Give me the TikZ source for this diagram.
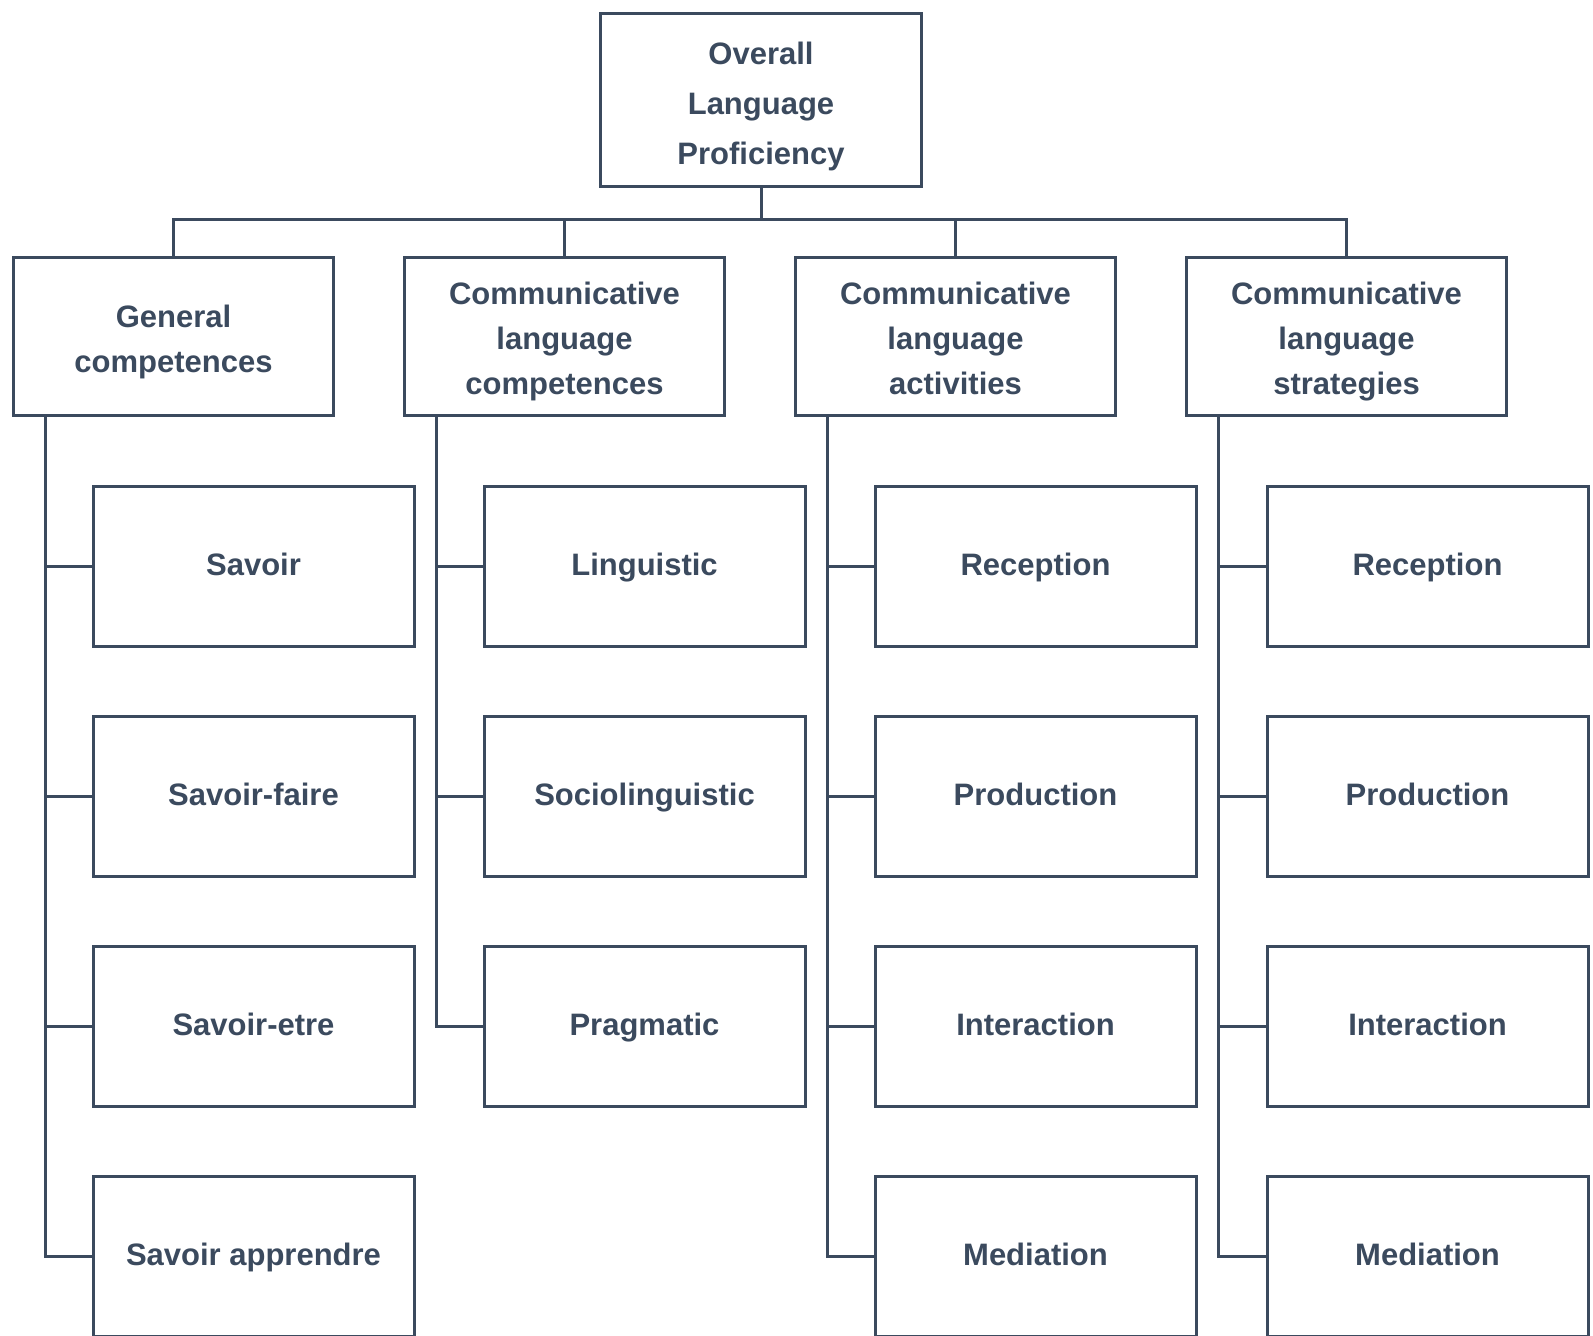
\documentclass[tikz,border=0pt]{standalone}
\usepackage{fontspec}
\setmainfont{Liberation Sans}
\definecolor{slate}{RGB}{59,74,94}
\tikzset{
  box/.style={draw=slate, line width=1.5pt, fill=white, rectangle, align=center, text=slate,
    font=\bfseries\fontsize{15.5}{22.5}\selectfont, inner sep=0pt,
    execute at begin node=\strut},
  topbox/.style={box, minimum width=160.5pt, minimum height=86.5pt, text height=72.5pt,
    font=\bfseries\fontsize{15.5}{25}\selectfont},
  headbox/.style={box, minimum width=160pt, minimum height=79pt, text height=64.5pt},
  leafbox/.style={box, minimum width=160.5pt, minimum height=80pt},
  link/.style={draw=slate, line width=1.5pt}
}
\begin{document}
\begin{tikzpicture}[x=0.5pt,y=0.5pt,yscale=-1,xscale=1]
\useasboundingbox (0,0) rectangle (1593,1336);

%Top box
\node [topbox] (overall) at (761,100) {Overall\\Language\\Proficiency\strut};

%Second level boxes
\node [headbox, text height=43pt] (general) at (173.5,336.5) {General\\competences\strut};
\node [headbox] (clcomp) at (564.5,336.5) {Communicative\\language\\competences\strut};
\node [headbox] (clact) at (955.5,336.5) {Communicative\\language\\activities\strut};
\node [headbox] (clstrat) at (1346.5,336.5) {Communicative\\language\\strategies\strut};

%Bus
\coordinate (bus) at (761,220);
\draw [link] (overall.south) -- (bus);
\draw [link] (general.north) |- (bus);
\draw [link] (clcomp.north) |- (bus);
\draw [link] (clact.north) |- (bus);
\draw [link] (clstrat.north) |- (bus);

%Trunks
\coordinate (gentrunk) at ([xshift=16.5pt]general.south west);
\coordinate (comptrunk) at ([xshift=16.5pt]clcomp.south west);
\coordinate (acttrunk) at ([xshift=16.5pt]clact.south west);
\coordinate (strattrunk) at ([xshift=16.5pt]clstrat.south west);

%General competences
\node [leafbox] (savoir) at (253.5,566.5) {Savoir};
\node [leafbox] (savfaire) at (253.5,796.5) {Savoir-faire};
\node [leafbox] (savetre) at (253.5,1026.5) {Savoir-etre};
\node [leafbox] (savappr) at (253.5,1256.5) {Savoir apprendre};
\draw [link] (gentrunk) |- (savappr.west);
\draw [link] (savoir.west) -- (savoir.west -| gentrunk);
\draw [link] (savfaire.west) -- (savfaire.west -| gentrunk);
\draw [link] (savetre.west) -- (savetre.west -| gentrunk);

%Communicative language competences
\node [leafbox] (ling) at (644.5,566.5) {Linguistic};
\node [leafbox] (socio) at (644.5,796.5) {Sociolinguistic};
\node [leafbox] (pragm) at (644.5,1026.5) {Pragmatic};
\draw [link] (comptrunk) |- (pragm.west);
\draw [link] (ling.west) -- (ling.west -| comptrunk);
\draw [link] (socio.west) -- (socio.west -| comptrunk);

%Communicative language activities
\node [leafbox] (actrec) at (1035.5,566.5) {Reception};
\node [leafbox] (actprod) at (1035.5,796.5) {Production};
\node [leafbox] (actint) at (1035.5,1026.5) {Interaction};
\node [leafbox] (actmed) at (1035.5,1256.5) {Mediation};
\draw [link] (acttrunk) |- (actmed.west);
\draw [link] (actrec.west) -- (actrec.west -| acttrunk);
\draw [link] (actprod.west) -- (actprod.west -| acttrunk);
\draw [link] (actint.west) -- (actint.west -| acttrunk);

%Communicative language strategies
\node [leafbox] (strrec) at (1427.5,566.5) {Reception};
\node [leafbox] (strprod) at (1427.5,796.5) {Production};
\node [leafbox] (strint) at (1427.5,1026.5) {Interaction};
\node [leafbox] (strmed) at (1427.5,1256.5) {Mediation};
\draw [link] (strattrunk) |- (strmed.west);
\draw [link] (strrec.west) -- (strrec.west -| strattrunk);
\draw [link] (strprod.west) -- (strprod.west -| strattrunk);
\draw [link] (strint.west) -- (strint.west -| strattrunk);

\end{tikzpicture}
\end{document}
